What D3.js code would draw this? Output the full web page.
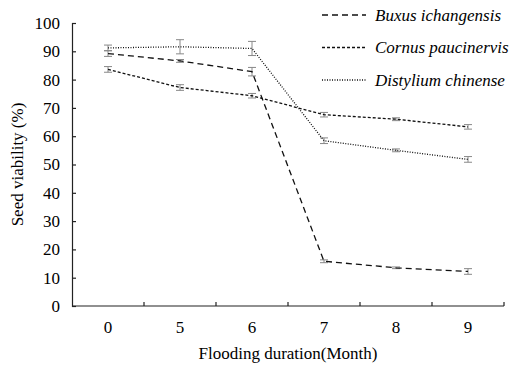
<!DOCTYPE html>
<html>
<head>
<meta charset="utf-8">
<script src="https://cdn.jsdelivr.net/npm/d3@7"></script>
<style>
  html body svg text { font-family: "Liberation Serif", "Times New Roman", serif !important; }
</style>
</head>
<body style="margin:0">
<svg width="517" height="367"></svg>
<script>
const months = ['0', '5', '6', '7', '8', '9'];
const yTicks = [0, 10, 20, 30, 40, 50, 60, 70, 80, 90, 100];

const buxus      = [89.2, 86.6, 82.8, 15.8, 13.5, 12.2];
const buxusErr   = [1.0, 0.5, 1.5, 0.5, 0.3, 1.0];
const cornus     = [83.6, 77.2, 74.3, 67.6, 66.0, 63.3];
const cornusErr  = [1.0, 1.0, 0.8, 0.8, 0.5, 0.8];
const distylium    = [91.2, 91.6, 91.0, 58.4, 55.0, 51.8];
const distyliumErr = [1.0, 2.5, 2.5, 1.0, 0.5, 1.0];

const series = [
    { name: 'Buxus ichangensis', values: buxus, err: buxusErr, dash: '6,4' },
    { name: 'Cornus paucinervis', values: cornus, err: cornusErr, dash: '3,2' },
    { name: 'Distylium chinense', values: distylium, err: distyliumErr, dash: '1,1.5' }
];

const FONT_STYLE = 'font-family: "Liberation Serif", "Times New Roman", serif !important;';

const svg = d3.select('svg');
const plotL = 72, plotR = 504, plotT = 23, plotB = 306;

const x = d3.scaleBand().domain(months).range([plotL, plotR]);
const y = d3.scaleLinear().domain([0, 100]).range([plotB, plotT]);

// y axis, ticks pointing inward
const yAxis = svg.append('g')
    .attr('transform', `translate(${plotL},0)`)
    .call(d3.axisLeft(y).tickValues(yTicks).tickSizeInner(-4).tickSizeOuter(-4).tickPadding(12));
yAxis.attr('font-family', 'Liberation Serif').attr('font-size', 17);
yAxis.selectAll('text').attr('style', FONT_STYLE + ' font-size: 17px;');
yAxis.selectAll('line, path').attr('stroke', '#222').attr('stroke-width', 1.2);

// x axis, ticks at band edges pointing up
const xAxis = svg.append('g')
    .attr('transform', `translate(0,${plotB})`);
xAxis.append('line')
    .attr('x1', plotL).attr('x2', plotR)
    .attr('stroke', '#222').attr('stroke-width', 1.2);
xAxis.selectAll('line.tick')
    .data(months)
    .enter().append('line')
    .attr('class', 'tick')
    .attr('x1', d => x(d) + x.bandwidth())
    .attr('x2', d => x(d) + x.bandwidth())
    .attr('y1', 0).attr('y2', -4)
    .attr('stroke', '#222').attr('stroke-width', 1.2);
xAxis.selectAll('text')
    .data(months)
    .enter().append('text')
    .attr('x', d => x(d) + x.bandwidth() / 2)
    .attr('y', 27)
    .attr('text-anchor', 'middle')
    .attr('style', FONT_STYLE + ' font-size: 17px;')
    .text(d => d);

svg.append('text')
    .attr('x', (plotL + plotR) / 2)
    .attr('y', 359)
    .attr('text-anchor', 'middle')
    .attr('style', FONT_STYLE + ' font-size: 17px;')
    .text('Flooding duration(Month)');

svg.append('text')
    .attr('transform', `translate(23,${(plotT + plotB) / 2}) rotate(-90)`)
    .attr('text-anchor', 'middle')
    .attr('style', FONT_STYLE + ' font-size: 17px;')
    .text('Seed viability (%)');

const line = d3.line()
    .x((d, i) => x(months[i]) + x.bandwidth() / 2)
    .y(d => y(d));

// error bars
series.forEach(s => {
    const g = svg.append('g');
    s.values.forEach((v, i) => {
        const cx = x(months[i]) + x.bandwidth() / 2;
        const lo = y(v - s.err[i]), hi = y(v + s.err[i]);
        g.append('line').attr('x1', cx).attr('x2', cx).attr('y1', lo).attr('y2', hi)
            .attr('stroke', '#888').attr('stroke-width', 1);
        [lo, hi].forEach(yy => {
            g.append('line').attr('x1', cx - 4).attr('x2', cx + 4).attr('y1', yy).attr('y2', yy)
                .attr('stroke', '#888').attr('stroke-width', 1);
        });
    });
});

series.forEach(s => {
    svg.append('path')
        .datum(s.values)
        .attr('d', line)
        .attr('fill', 'none')
        .attr('stroke', '#111')
        .attr('stroke-width', 1.3)
        .attr('stroke-dasharray', s.dash);
});

// legend
series.forEach((s, i) => {
    const ly = 15 + i * 32.5;
    svg.append('line')
        .attr('x1', 322).attr('x2', 366)
        .attr('y1', ly).attr('y2', ly)
        .attr('stroke', '#111').attr('stroke-width', 1.3)
        .attr('stroke-dasharray', s.dash);
    svg.append('text')
        .attr('x', 375).attr('y', ly + 5.5)
        .attr('style', FONT_STYLE + ' font-size: 17px; font-style: italic;')
        .text(s.name);
});
</script>
</body>
</html>
